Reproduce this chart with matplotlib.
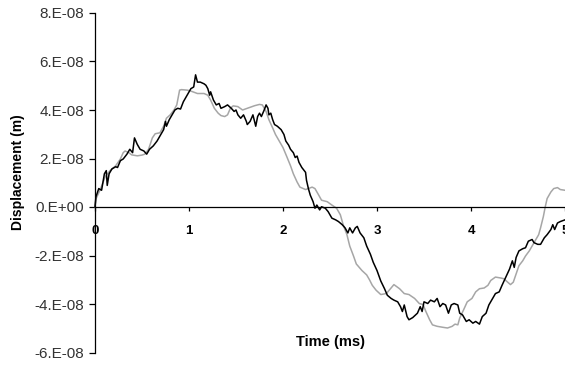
import matplotlib
matplotlib.use("Agg")
import matplotlib.pyplot as plt
import numpy as np

# values, displacement in units of 1E-08 m
black_t = [0.00, 0.01, 0.04, 0.07, 0.10, 0.12, 0.13, 0.15, 0.18, 0.22, 0.24, 0.27, 0.30, 0.34,
           0.37, 0.40, 0.42, 0.45, 0.48, 0.52, 0.55, 0.58, 0.62, 0.66, 0.69, 0.73, 0.75, 0.76,
           0.79, 0.82, 0.85, 0.88, 0.91, 0.94, 0.98, 1.02, 1.05, 1.07, 1.09, 1.12, 1.16, 1.18,
           1.20, 1.22, 1.23, 1.26, 1.29, 1.32, 1.34, 1.38, 1.41, 1.45, 1.48, 1.50, 1.52, 1.55,
           1.58, 1.61, 1.62, 1.65, 1.68, 1.71, 1.73, 1.75, 1.77, 1.80, 1.82, 1.84, 1.85, 1.87,
           1.89, 1.91, 1.94, 1.98, 2.01, 2.03, 2.06, 2.08, 2.11, 2.13, 2.15, 2.17, 2.20, 2.24,
           2.25, 2.27, 2.29, 2.32, 2.34, 2.36, 2.39, 2.41, 2.45, 2.48, 2.52, 2.56, 2.59, 2.63,
           2.66, 2.69, 2.71, 2.74, 2.77, 2.79, 2.82, 2.86, 2.89, 2.93, 2.96, 3.00, 3.04, 3.08,
           3.11, 3.15, 3.18, 3.22, 3.25, 3.27, 3.29, 3.32, 3.34, 3.38, 3.43, 3.46, 3.48, 3.50,
           3.54, 3.57, 3.61, 3.64, 3.67, 3.70, 3.73, 3.76, 3.79, 3.82, 3.86, 3.88, 3.91, 3.95,
           3.98, 4.02, 4.05, 4.09, 4.12, 4.16, 4.19, 4.23, 4.26, 4.30, 4.33, 4.37, 4.41, 4.44,
           4.46, 4.48, 4.51, 4.55, 4.58, 4.61, 4.65, 4.67, 4.71, 4.74, 4.78, 4.81, 4.85, 4.87,
           4.89, 4.92, 4.95, 5.00]
black_v = [0.00, 0.42, 0.76, 0.69, 1.37, 1.50, 0.89, 1.37, 1.57, 1.66, 1.63, 1.91, 1.98, 2.18,
           2.38, 2.24, 2.85, 2.58, 2.38, 2.31, 2.18, 2.38, 2.52, 2.72, 2.92, 3.19, 3.53, 3.33,
           3.60, 3.80, 4.00, 4.07, 4.04, 4.34, 4.61, 4.88, 4.95, 5.45, 5.15, 5.15, 5.08, 5.02,
           4.88, 4.61, 4.75, 4.41, 4.21, 4.27, 4.07, 4.14, 4.21, 4.07, 3.94, 4.00, 3.80, 3.66,
           3.80, 3.53, 3.40, 3.53, 3.80, 3.33, 3.73, 3.87, 3.73, 4.00, 4.21, 4.07, 3.80, 3.87,
           3.60, 3.40, 3.33, 3.19, 2.99, 2.72, 2.55, 2.38, 2.24, 2.04, 2.10, 1.84, 1.63, 1.43,
           1.10, 0.76, 0.49, 0.22, -0.05, 0.08, -0.12, 0.01, -0.05, -0.19, -0.46, -0.53, -0.60, -0.73,
           -0.86, -1.07, -0.86, -1.07, -0.86, -0.80, -1.07, -1.27, -1.61, -1.95, -2.28, -2.62, -3.05, -3.37,
           -3.64, -3.77, -3.84, -3.91, -4.11, -4.31, -4.04, -4.52, -4.65, -4.56, -4.38, -4.11, -4.31, -3.91,
           -3.98, -3.84, -3.91, -3.77, -4.11, -3.98, -4.04, -4.38, -4.04, -3.98, -4.04, -4.38, -4.45, -4.72,
           -4.65, -4.79, -4.72, -4.83, -4.52, -4.38, -4.04, -3.77, -3.57, -3.50, -3.23, -2.89, -2.56, -2.22,
           -2.49, -2.08, -1.81, -1.72, -1.68, -1.41, -1.34, -1.47, -1.54, -1.54, -1.27, -1.14, -0.93, -0.73,
           -0.93, -0.66, -0.60, -0.53]

gray_t = [0.00, 0.01, 0.06, 0.11, 0.16, 0.22, 0.27, 0.30, 0.32, 0.36, 0.39, 0.45, 0.50, 0.53,
          0.57, 0.61, 0.64, 0.69, 0.73, 0.76, 0.80, 0.84, 0.87, 0.90, 0.92, 0.98, 1.02, 1.09,
          1.16, 1.20, 1.23, 1.27, 1.31, 1.34, 1.38, 1.41, 1.44, 1.47, 1.52, 1.57, 1.62, 1.70,
          1.75, 1.78, 1.82, 1.85, 1.89, 1.92, 1.96, 2.00, 2.04, 2.08, 2.11, 2.15, 2.18, 2.24,
          2.27, 2.31, 2.34, 2.38, 2.41, 2.47, 2.52, 2.57, 2.61, 2.64, 2.68, 2.71, 2.75, 2.78,
          2.84, 2.89, 2.92, 2.95, 2.99, 3.04, 3.10, 3.13, 3.18, 3.24, 3.29, 3.34, 3.40, 3.45,
          3.49, 3.52, 3.56, 3.59, 3.64, 3.70, 3.75, 3.80, 3.83, 3.86, 3.88, 3.92, 3.96, 4.01,
          4.05, 4.09, 4.14, 4.18, 4.21, 4.26, 4.32, 4.35, 4.39, 4.42, 4.45, 4.48, 4.51, 4.55,
          4.58, 4.62, 4.65, 4.69, 4.72, 4.74, 4.77, 4.79, 4.81, 4.85, 4.88, 4.92, 4.95, 5.00]
gray_v = [0.00, 0.33, 0.76, 1.26, 1.50, 1.70, 1.98, 2.24, 2.31, 2.24, 2.15, 2.11, 2.14, 2.18,
          2.38, 2.85, 3.02, 3.06, 3.33, 3.66, 3.80, 4.00, 4.21, 4.82, 4.84, 4.82, 4.78, 4.68,
          4.68, 4.61, 4.41, 4.07, 3.87, 3.77, 3.73, 3.80, 4.07, 4.17, 4.14, 4.00, 4.07, 4.18,
          4.23, 4.21, 3.94, 3.60, 3.26, 2.99, 2.72, 2.45, 2.08, 1.70, 1.37, 1.03, 0.82, 0.72,
          0.76, 0.82, 0.76, 0.49, 0.28, 0.22, 0.08, -0.05, -0.32, -0.73, -1.14, -1.61, -2.02, -2.35,
          -2.62, -2.80, -3.00, -3.23, -3.43, -3.61, -3.57, -3.43, -3.20, -3.37, -3.57, -3.61, -3.77, -3.98,
          -4.02, -4.31, -4.65, -4.86, -4.92, -4.96, -4.99, -4.92, -4.83, -4.86, -4.58, -4.25, -3.91, -3.77,
          -3.50, -3.37, -3.34, -3.23, -3.03, -2.89, -2.93, -2.96, -3.10, -3.20, -3.10, -2.76, -2.42, -2.22,
          -2.02, -1.81, -1.61, -1.34, -1.14, -0.86, -0.39, 0.01, 0.35, 0.62, 0.76, 0.80, 0.72, 0.69]

y_ticks = [-6e-08, -4e-08, -2e-08, 0.0, 2e-08, 4e-08, 6e-08, 8e-08]
y_tick_labels = ['-6.E-08', '-4.E-08', '-2.E-08', '0.E+00', '2.E-08', '4.E-08', '6.E-08', '8.E-08']
x_ticks = [0, 1, 2, 3, 4, 5]

plt.rcParams['font.family'] = ['Liberation Sans', 'DejaVu Sans']

fig = plt.figure(figsize=(5.65, 3.82), dpi=100)
ax = fig.add_axes([95 / 565, 29.5 / 382, 470 / 565, 339.5 / 382])

ax.plot(gray_t, np.array(gray_v) * 1e-8, color='#a6a6a6', lw=1.1, clip_on=False)
ax.plot(black_t, np.array(black_v) * 1e-8, color='black', lw=1.1, clip_on=False)

ax.set_xlim(0, 5)
ax.set_ylim(-6e-08, 8e-08)

ax.spines['top'].set_visible(False)
ax.spines['right'].set_visible(False)
ax.spines['bottom'].set_position(('data', 0))
ax.spines['left'].set_linewidth(0.9)
ax.spines['bottom'].set_linewidth(0.9)

ax.set_yticks(y_ticks)
ax.set_yticklabels(y_tick_labels)
ax.set_xticks(x_ticks)
ax.set_xticklabels([str(x) for x in x_ticks], fontweight='bold')
ax.tick_params(axis='y', direction='out', length=4, width=0.9, labelsize=11, colors='black',
               labelcolor='#333333', pad=4)
ax.tick_params(axis='x', direction='out', length=3, width=0.9, labelsize=9.5, pad=10)

ax.set_ylabel('Displacement (m)', fontsize=10, fontweight='bold')
ax.yaxis.set_label_coords(-70 / 470, (352.5 - 172) / 339.5)
ax.text(0.5, (352.5 - 342) / 339.5, 'Time (ms)', transform=ax.transAxes, ha='center',
        va='center', fontsize=10.5, fontweight='bold')

fig.savefig('out.png', dpi=100)
